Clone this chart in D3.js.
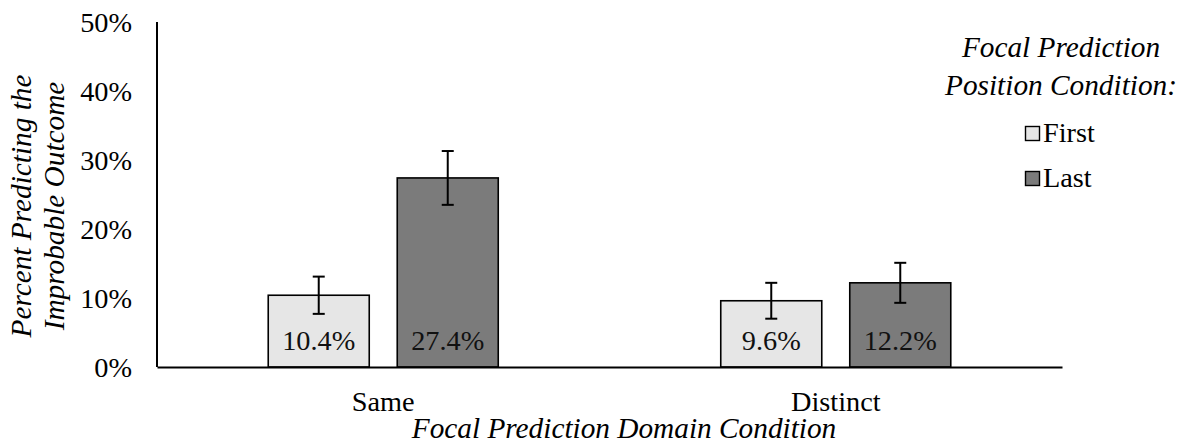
<!DOCTYPE html>
<html>
<head>
<meta charset="utf-8">
<script src="https://cdn.jsdelivr.net/npm/d3@7"></script>
<style>
  html, body { margin: 0; padding: 0; background: #fff; }
  svg { display: block; }
  svg text { font-family: "Liberation Serif", "Times New Roman", Times, serif; font-size: 28.3px; }
  svg text.title { font-style: italic; font-size: 29.3px; }
</style>
</head>
<body>
<svg id="chart" width="1182" height="446"></svg>
<script>
// Domain conditions along the x axis
const categories = ["Same", "Distinct"];
// Position conditions (one bar per condition in each group)
const series = ["First", "Last"];
// Percent predicting the improbable outcome
const firstValues = [0.104, 0.096];
const lastValues = [0.274, 0.122];
// Error bar half-widths
const firstErrors = [0.027, 0.026];
const lastErrors = [0.039, 0.029];
// Y axis ticks
const yTicks = [0, 0.1, 0.2, 0.3, 0.4, 0.5];

const colors = { First: "#e6e6e6", Last: "#7b7b7b" };

const svg = d3.select("#chart");
const plotLeft = 157, plotRight = 1062, plotTop = 22, plotBottom = 367;

const x0 = d3.scaleBand().domain(categories).range([plotLeft, plotRight])
  .paddingInner(0.4917).paddingOuter(0.2458);
const x1 = d3.scaleBand().domain(series).range([0, x0.bandwidth()])
  .paddingInner(0.217).paddingOuter(0);
const y = d3.scaleLinear().domain([0, 0.5]).range([plotBottom, plotTop]);

const rows = [];
categories.forEach((c, i) => {
  rows.push({ cat: c, s: "First", v: firstValues[i], e: firstErrors[i] });
  rows.push({ cat: c, s: "Last", v: lastValues[i], e: lastErrors[i] });
});

// Y axis: labels only plus the vertical line
const yAxis = svg.append("g")
  .attr("transform", `translate(${plotLeft},0)`)
  .call(d3.axisLeft(y).tickValues(yTicks).tickFormat(d3.format(".0%")).tickSize(0).tickPadding(25));
yAxis.select(".domain").remove();
yAxis.selectAll("text")
  .attr("fill", "#000")
  .attr("dy", "0.33em");

// Bars
const bars = svg.append("g");
bars.selectAll("rect").data(rows).join("rect")
  .attr("x", d => x0(d.cat) + x1(d.s))
  .attr("y", d => y(d.v))
  .attr("width", x1.bandwidth())
  .attr("height", d => y(0) - y(d.v))
  .attr("fill", d => colors[d.s])
  .attr("stroke", "#000")
  .attr("stroke-width", 1.6);

// Value labels inside the bars
bars.selectAll("text").data(rows).join("text")
  .attr("x", d => x0(d.cat) + x1(d.s) + x1.bandwidth() / 2)
  .attr("y", 349.5)
  .attr("text-anchor", "middle")
  .attr("fill", "#111")
  .text(d => d3.format(".1%")(d.v));

// Error bars
const capHalf = 6;
const err = svg.append("g").attr("stroke", "#000").attr("stroke-width", 2);
rows.forEach(d => {
  const cx = x0(d.cat) + x1(d.s) + x1.bandwidth() / 2;
  const yHi = y(d.v + d.e), yLo = y(d.v - d.e);
  err.append("line").attr("x1", cx).attr("x2", cx).attr("y1", yHi).attr("y2", yLo);
  err.append("line").attr("x1", cx - capHalf).attr("x2", cx + capHalf).attr("y1", yHi).attr("y2", yHi);
  err.append("line").attr("x1", cx - capHalf).attr("x2", cx + capHalf).attr("y1", yLo).attr("y2", yLo);
});

// Axis lines
svg.append("line").attr("x1", plotLeft).attr("x2", plotLeft).attr("y1", plotTop).attr("y2", plotBottom)
  .attr("stroke", "#000").attr("stroke-width", 2);
const xAxis = svg.append("g")
  .attr("transform", `translate(0,${plotBottom})`)
  .call(d3.axisBottom(x0).tickSize(0).tickPadding(24));
xAxis.select(".domain").attr("stroke", "#000").attr("stroke-width", 2);
xAxis.selectAll("text").attr("fill", "#000");

// Axis titles
svg.append("text")
  .attr("class", "title")
  .attr("x", 624).attr("y", 438)
  .attr("text-anchor", "middle")
  .text("Focal Prediction Domain Condition");

const yTitle = svg.append("text")
  .attr("class", "title")
  .attr("transform", "translate(0,206) rotate(-90)")
  .attr("text-anchor", "middle");
yTitle.append("tspan").attr("x", 0).attr("y", 31).text("Percent Predicting the");
yTitle.append("tspan").attr("x", 0).attr("y", 64).text("Improbable Outcome");

// Legend
const legend = svg.append("g");
legend.append("text").attr("class", "title").attr("x", 1061).attr("y", 57)
  .attr("text-anchor", "middle").text("Focal Prediction");
legend.append("text").attr("class", "title").attr("x", 1061).attr("y", 95)
  .attr("text-anchor", "middle").text("Position Condition:");
const legendY = d3.scalePoint().domain(series).range([142, 187]);
const items = legend.selectAll("g.item").data(series).join("g").attr("class", "item");
items.append("rect")
  .attr("x", 1025.5).attr("y", d => legendY(d) - 15.5)
  .attr("width", 14).attr("height", 14)
  .attr("fill", d => colors[d]).attr("stroke", "#000").attr("stroke-width", 1.4);
items.append("text")
  .attr("x", 1043).attr("y", d => legendY(d))
  .text(d => d);

// Drop the axis generator's own font attributes so the stylesheet applies
svg.selectAll("g").attr("font-family", null).attr("font-size", null);
</script>
</body>
</html>
